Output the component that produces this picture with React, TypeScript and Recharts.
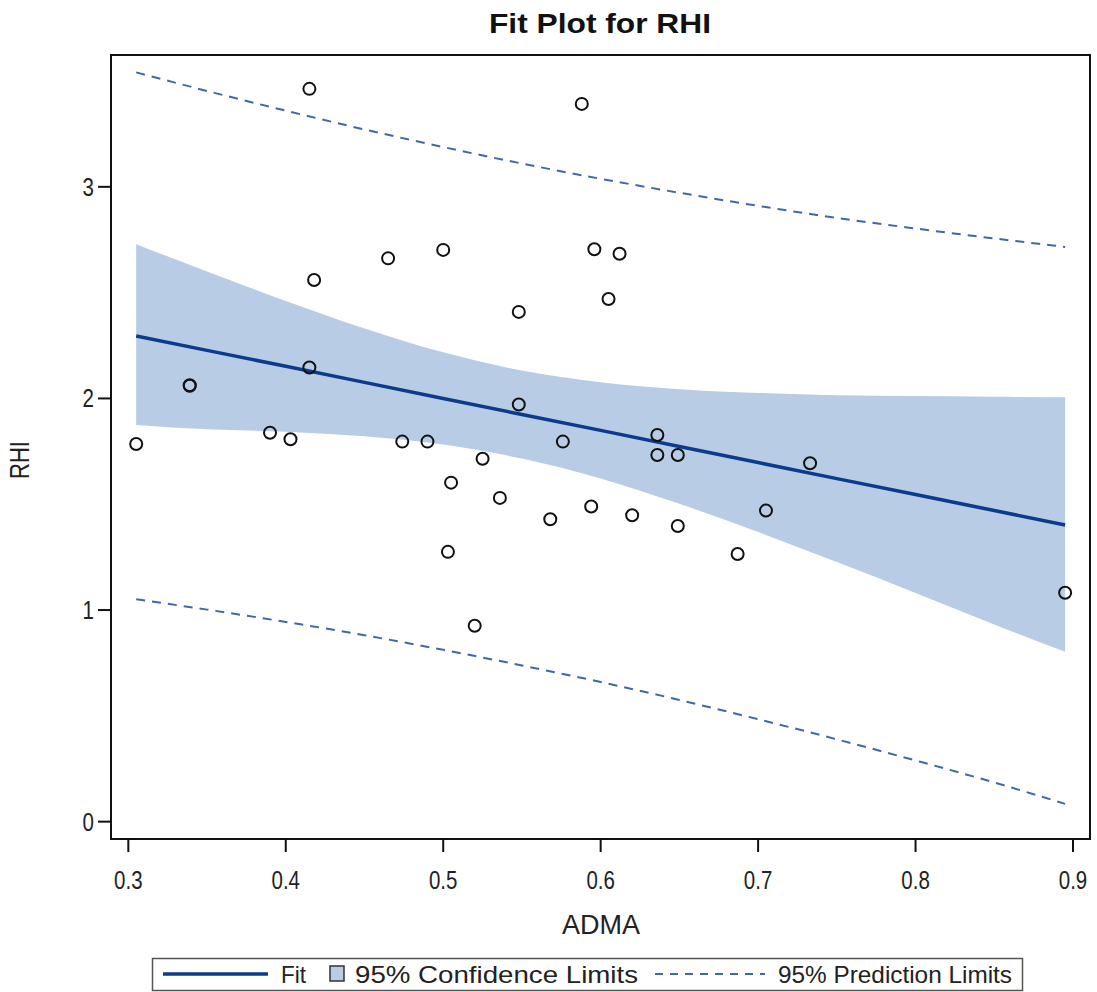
import React from 'react';
import { ComposedChart, XAxis, YAxis, Area, Line, Scatter, ReferenceArea } from 'recharts';

// Observed points (ADMA, RHI)
const admaObs = [0.305, 0.339, 0.339, 0.390, 0.403, 0.415, 0.415, 0.418, 0.465, 0.474, 0.490, 0.500, 0.503, 0.505, 0.520, 0.525, 0.536, 0.548, 0.548, 0.568, 0.576, 0.588, 0.594, 0.596, 0.605, 0.612, 0.620, 0.636, 0.636, 0.649, 0.649, 0.687, 0.705, 0.733, 0.895];
const rhiObs = [1.785, 2.060, 2.062, 1.838, 1.807, 3.463, 2.146, 2.560, 2.662, 1.796, 1.796, 2.702, 1.275, 1.602, 0.926, 1.715, 1.530, 2.409, 1.971, 1.429, 1.796, 3.392, 1.489, 2.705, 2.470, 2.684, 1.448, 1.827, 1.733, 1.733, 1.397, 1.265, 1.470, 1.694, 1.082];

// Fit line and limits read at these ADMA positions
const gridX = [0.305, 0.35, 0.40, 0.45, 0.50, 0.55, 0.60, 0.65, 0.70, 0.75, 0.80, 0.85, 0.895];
const fitVals = [2.295, 2.227, 2.152, 2.076, 2.000, 1.924, 1.849, 1.773, 1.697, 1.621, 1.546, 1.470, 1.402];
const clmUpper = [2.729, 2.600, 2.461, 2.331, 2.218, 2.132, 2.077, 2.044, 2.026, 2.015, 2.011, 2.008, 2.006];
const clmLower = [1.875, 1.854, 1.843, 1.821, 1.782, 1.716, 1.622, 1.502, 1.369, 1.227, 1.081, 0.932, 0.803];
const plmUpper = [3.541, 3.453, 3.360, 3.271, 3.188, 3.110, 3.038, 2.972, 2.910, 2.853, 2.803, 2.756, 2.716];
const plmLower = [1.051, 1.002, 0.944, 0.881, 0.812, 0.738, 0.660, 0.575, 0.484, 0.389, 0.289, 0.185, 0.084];

const xTicks = [0.3, 0.4, 0.5, 0.6, 0.7, 0.8, 0.9];
const yTicks = [0, 1, 2, 3];
const xDomain = [0.289, 0.9108];
const yDomain = [-0.082, 3.623];

const curveData = gridX.map((x, i) => ({
  x,
  fit: fitVals[i],
  clm: [clmLower[i], clmUpper[i]],
  plmU: plmUpper[i],
  plmL: plmLower[i],
}));
const pointData = admaObs.map((x, i) => ({ x, y: rhiObs[i] }));

const FIT = '#0b3b8c';
const BAND = '#b8cce6';
const PRED = '#4167a8';
const FONT = '"Liberation Sans", Arial, sans-serif';
const SX = 0.82;

const XTick = (props: any) => {
  const { x, y, payload } = props;
  return (
    <g transform={`translate(${x},${y + 35})`}>
      <text transform={`scale(${SX},1)`} textAnchor="middle" fontSize={25} fontFamily={FONT} fill="#222">
        {Number(payload.value).toFixed(1)}
      </text>
    </g>
  );
};

const YTick = (props: any) => {
  const { x, y, payload } = props;
  return (
    <g transform={`translate(${x - 2},${y + 9})`}>
      <text transform={`scale(${SX},1)`} textAnchor="end" fontSize={25} fontFamily={FONT} fill="#222">
        {String(payload.value)}
      </text>
    </g>
  );
};

const Dot = (props: any) => {
  const { cx, cy } = props;
  if (cx == null || cy == null) return <g />;
  return <circle cx={cx} cy={cy} r={6} fill="none" stroke="#111" strokeWidth={2} />;
};

export default function App() {
  return (
    <div style={{ position: 'absolute', left: 0, top: 0, width: 1097, height: 992, background: '#fff' }}>
      <ComposedChart
        width={1097}
        height={992}
        data={curveData}
        margin={{ top: 55, right: 7, bottom: 93, left: 41 }}
      >
        <XAxis
          dataKey="x"
          type="number"
          domain={xDomain}
          ticks={xTicks}
          allowDataOverflow
          height={60}
          tickSize={13}
          tickLine={{ stroke: '#111', strokeWidth: 2 }}
          axisLine={{ stroke: '#111', strokeWidth: 2 }}
          tick={XTick}
        />
        <YAxis
          type="number"
          domain={yDomain}
          ticks={yTicks}
          allowDataOverflow
          width={70}
          tickSize={13}
          tickLine={{ stroke: '#111', strokeWidth: 2 }}
          axisLine={{ stroke: '#111', strokeWidth: 2 }}
          tick={YTick}
        />
        <Area
          dataKey="clm"
          type="monotone"
          fill={BAND}
          fillOpacity={1}
          stroke="none"
          isAnimationActive={false}
          dot={false}
          activeDot={false}
        />
        <Line dataKey="plmU" type="monotone" stroke={PRED} strokeWidth={2} strokeDasharray="9 7" dot={false} activeDot={false} isAnimationActive={false} />
        <Line dataKey="plmL" type="monotone" stroke={PRED} strokeWidth={2} strokeDasharray="9 7" dot={false} activeDot={false} isAnimationActive={false} />
        <Line dataKey="fit" type="linear" stroke={FIT} strokeWidth={3.5} dot={false} activeDot={false} isAnimationActive={false} />
        <Scatter data={pointData} dataKey="y" shape={Dot} isAnimationActive={false} />
        <ReferenceArea
          x1={xDomain[0]}
          x2={xDomain[1]}
          y1={yDomain[0]}
          y2={yDomain[1]}
          fill="none"
          stroke="#111"
          strokeWidth={2}
          ifOverflow="visible"
        />
      </ComposedChart>
      <svg
        width={1097}
        height={992}
        style={{ position: 'absolute', left: 0, top: 0, pointerEvents: 'none' }}
      >
        <text x={600} y={33} textAnchor="middle" fontSize={28} fontWeight="bold" fontFamily={FONT} fill="#111" textLength={222} lengthAdjust="spacingAndGlyphs">
          Fit Plot for RHI
        </text>
        <text x={601} y={934} textAnchor="middle" fontSize={27} fontFamily={FONT} fill="#222" textLength={78} lengthAdjust="spacingAndGlyphs">
          ADMA
        </text>
        <text transform="translate(29,460) rotate(-90)" textAnchor="middle" fontSize={27} fontFamily={FONT} fill="#222" textLength={38} lengthAdjust="spacingAndGlyphs">
          RHI
        </text>
        <rect x={152.5} y={958.5} width={870} height={32} fill="#fff" stroke="#555" strokeWidth={1.5} />
        <line x1={163} x2={268} y1={974} y2={974} stroke={FIT} strokeWidth={3.5} />
        <text x={281} y={983} fontSize={24} fontFamily={FONT} fill="#222" textLength={25} lengthAdjust="spacingAndGlyphs">Fit</text>
        <rect x={330} y={966} width={14} height={15} fill={BAND} stroke="#333" strokeWidth={1.5} />
        <text x={355} y={983} fontSize={24} fontFamily={FONT} fill="#222" textLength={283} lengthAdjust="spacingAndGlyphs">95% Confidence Limits</text>
        <line x1={655} x2={765} y1={974} y2={974} stroke={PRED} strokeWidth={2} strokeDasharray="8 7" />
        <text x={778} y={983} fontSize={24} fontFamily={FONT} fill="#222" textLength={234} lengthAdjust="spacingAndGlyphs">95% Prediction Limits</text>
      </svg>
    </div>
  );
}
